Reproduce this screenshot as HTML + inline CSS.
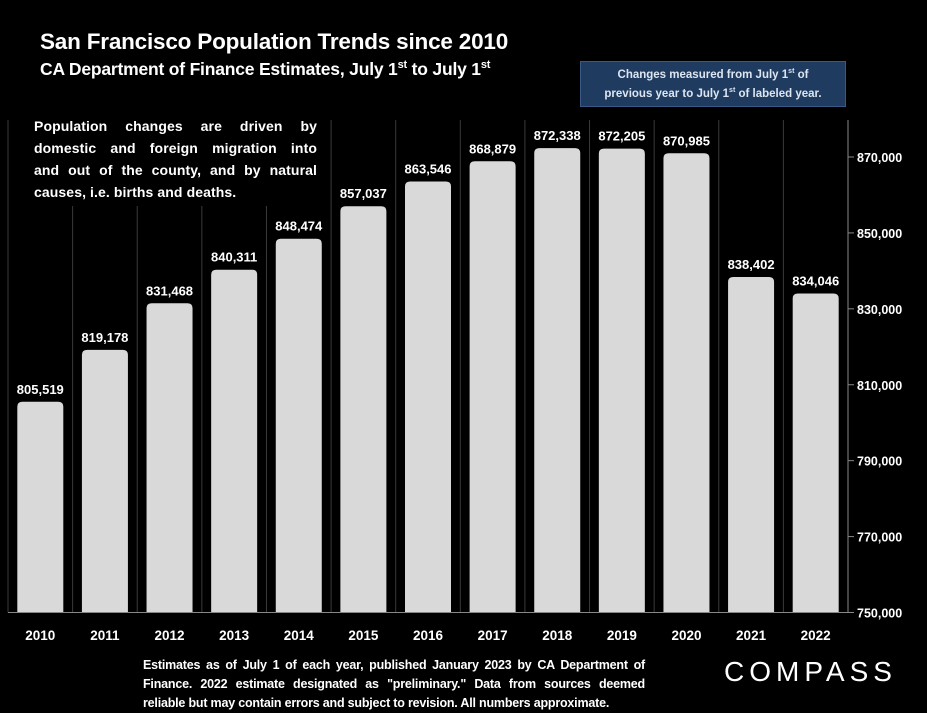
<!DOCTYPE html>
<html><head><meta charset="utf-8"><style>
body{margin:0;background:#000;width:927px;height:713px;overflow:hidden;font-family:"Liberation Sans",sans-serif;color:#fff}
#wrap{position:relative;width:927px;height:713px}
.t{position:absolute;white-space:nowrap}
.j{display:block;text-align:justify;text-align-last:justify;white-space:nowrap}
sup{line-height:0;vertical-align:super}
</style></head><body><div id="wrap">
<div class="t" style="left:40px;top:29px;font-size:22.5px;font-weight:bold;letter-spacing:-0.2px">San Francisco Population Trends since 2010</div>
<div class="t" style="left:40px;top:59px;font-size:17.5px;font-weight:bold;letter-spacing:-0.2px">CA Department of Finance Estimates, July 1<sup style="font-size:11px">st</sup> to July 1<sup style="font-size:11px">st</sup></div>
<div class="t" style="left:580px;top:61px;width:266px;height:46px;background:#1f3b60;border:1px solid #3a5a85;font-size:11.5px;font-weight:bold;color:#dde6f0;text-align:center;line-height:19px;padding-top:4px;box-sizing:border-box">Changes measured from July 1<sup style="font-size:7px">st</sup> of<br>previous year to July 1<sup style="font-size:7px">st</sup> of labeled year.</div>
<svg id="c" width="927" height="713" style="position:absolute;left:0;top:0"></svg>
<div class="t" style="left:28px;top:112px;width:295px;padding:3px 6px;box-sizing:border-box;background:#000;font-size:14px;font-weight:bold;line-height:22px;letter-spacing:0.1px">
<span class="j">Population changes are driven by</span><span class="j">domestic and foreign migration into</span><span class="j">and out of the county, and by natural</span><span style="display:block">causes, i.e. births and deaths.</span></div>
<div class="t" style="left:143px;top:656px;width:502px;font-size:12.5px;font-weight:bold;line-height:19px;letter-spacing:-0.2px">
<span class="j">Estimates as of July 1 of each year, published January 2023 by CA Department of</span><span class="j">Finance. 2022 estimate designated as "preliminary." Data from sources deemed</span><span style="display:block">reliable but may contain errors and subject to revision. All numbers approximate.</span></div>
<div class="t" style="left:724px;top:656px;font-size:28px;letter-spacing:5px">COMPASS</div>
</div>
<script>
const categories=["2010","2011","2012","2013","2014","2015","2016","2017","2018","2019","2020","2021","2022"];
const values=[805519,819178,831468,840311,848474,857037,863546,868879,872338,872205,870985,838402,834046];
const valueLabels=["805,519","819,178","831,468","840,311","848,474","857,037","863,546","868,879","872,338","872,205","870,985","838,402","834,046"];
const tickValues=[750000,770000,790000,810000,830000,850000,870000];
const tickLabels=["750,000","770,000","790,000","810,000","830,000","850,000","870,000"];
const svg=document.getElementById('c');const NS='http://www.w3.org/2000/svg';
const x0=8,x1=848,yBase=612.5,yTop=157,vMin=750000,vMax=870000;
const bw=(x1-x0)/categories.length;
const y=v=>yBase-(v-vMin)/(vMax-vMin)*(yBase-yTop);
const xc=i=>x0+bw*(i+0.5);
function mk(t,a){const e=document.createElementNS(NS,t);for(const k in a)e.setAttribute(k,a[k]);svg.appendChild(e);return e;}
for(let i=0;i<=categories.length;i++){const g=mk('line',{x1:x0+bw*i,x2:x0+bw*i,y1:120,y2:yBase,stroke:'#3a3a3a','stroke-width':1});

}
categories.forEach((c,i)=>{
const top=y(values[i]),w=46,r=5,l=xc(i)-w/2;
const p=mk('path',{d:`M${l},${yBase}V${top+r}Q${l},${top} ${l+r},${top}H${l+w-r}Q${l+w},${top} ${l+w},${top+r}V${yBase}Z`,fill:'#d9d9d9'});


const t=mk('text',{x:xc(i),y:top-8,'text-anchor':'middle',fill:'#fff','font-size':13,'font-weight':'bold','font-family':'Liberation Sans'});t.textContent=valueLabels[i];


const xl=mk('text',{x:xc(i),y:640,'text-anchor':'middle',fill:'#fff','font-size':13.5,'font-weight':'bold','font-family':'Liberation Sans'});xl.textContent=c;


});
const base=mk('line',{x1:x0,x2:x1+6,y1:yBase,y2:yBase,stroke:'#888','stroke-width':1});


const ax=mk('line',{x1:x1,x2:x1,y1:120,y2:yBase,stroke:'#888','stroke-width':1});


tickValues.forEach((v,i)=>{
const tk=mk('line',{x1:x1,x2:x1+6,y1:y(v),y2:y(v),stroke:'#888'});


const t=mk('text',{x:857,y:y(v)+5,fill:'#fff','font-size':12.5,'font-weight':'bold','font-family':'Liberation Sans'});t.textContent=tickLabels[i];


});
</script></body></html>
